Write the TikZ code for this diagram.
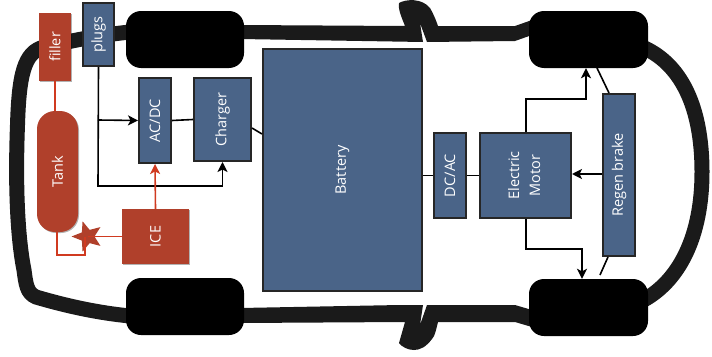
\documentclass[tikz,border=0pt]{standalone}
\usepackage{fontspec}
\setmainfont{Open Sans}
\usetikzlibrary{arrows.meta,shapes.geometric,shadows}
\definecolor{bluebox}{HTML}{4A6488}
\definecolor{redbox}{HTML}{B0402B}
\definecolor{redline}{HTML}{D03A20}
\definecolor{body}{HTML}{1A1A1A}
\tikzset{
 x=1pt,y=-1pt,
 labelfont/.style={font=\fontsize{14.5}{21}\selectfont},
 softshadow/.style={drop shadow={shadow xshift=1pt,shadow yshift=-1pt,opacity=.3,fill=black}},
 bb/.style={draw=black!85,line width=2pt,fill=bluebox,text=white,inner sep=0pt,labelfont,align=center,softshadow},
 rb/.style={fill=redbox,text=white,inner sep=0pt,labelfont,align=center,softshadow},
 wheel/.style={fill=black,rounded corners=15pt,inner sep=0pt},
 carbody/.style={draw=body,line width=15pt,line cap=butt},
 blk/.style={draw=black,line width=1.6pt},
 blkarrow/.style={blk,-{Stealth[length=10pt,width=10pt,inset=2.5pt]}},
 redl/.style={draw=redline,line width=1.6pt},
 redarrow/.style={redl,-{Stealth[length=10pt,width=10pt,inset=2.5pt]}},
}
\begin{document}
\begin{tikzpicture}
\useasboundingbox (0,0) rectangle (712,356);
% car body
\draw[carbody] (130,32) .. controls (100,35) and (70,41) .. (44,47) .. controls (24,52) and (19,75) .. (17.5,125) .. controls (15,190) and (18,240) .. (24,270) .. controls (26,285) and (27,293) .. (36,297) .. controls (70,307) and (100,313) .. (130,316);
\fill[body] (240,25) -- (405,26) .. controls (401,16) and (398,9) .. (399,3) .. controls (406,-1) and (422,-2) .. (430,8) .. controls (433,13) and (436,20) .. (438,26) -- (515,26) -- (532,20) -- (532,35) -- (515,41) -- (427,42) -- (420,23) -- (423,42) -- (240,39) -- cycle;
\fill[body] (240,308) -- (400,305) -- (423,305) -- (420,325) -- (427,305) -- (515,305) -- (532,310) -- (532,327) -- (515,322) -- (438,322) .. controls (436,330) and (435,336) .. (432,339) .. controls (426,347) and (420,350) .. (414,350) .. controls (408,350) and (402,347) .. (399,343) .. controls (401,336) and (403,329) .. (405,322) -- (240,323) -- cycle;
\draw[carbody] (640,46) .. controls (680,62) and (702,105) .. (702,172) .. controls (702,235) and (680,282) .. (640,302);
% wheels
\node[wheel,minimum width=118pt,minimum height=57pt] (wtl) at (185,39.5) {};
\node[wheel,minimum width=118pt,minimum height=57pt] (wbl) at (185,306.5) {};
\node[wheel,minimum width=119pt,minimum height=57pt] (wtr) at (588.5,39.5) {};
\node[wheel,minimum width=119pt,minimum height=57pt] (wbr) at (588.5,307.5) {};
% connector anchors
\coordinate (pj) at (98,120);
\coordinate (pk) at (98,186);
\coordinate (cj) at (526,99);
\coordinate (cjb) at (586,99);
\coordinate (cb) at (526,249);
\coordinate (cbb) at (582,249);
\coordinate (rt) at (597,68);
\coordinate (rb1) at (600,275);
% blue boxes
\node[bb,minimum width=31pt,minimum height=63pt] (plugs) at (98.5,34.5) {\rotatebox{90}{plugs}};
\node[bb,minimum width=32pt,minimum height=85pt] (acdc) at (155,120.5) {\rotatebox{90}{AC/DC}};
\node[bb,minimum width=57pt,minimum height=83pt] (charger) at (222.5,119.5) {\rotatebox{90}{Charger}};
\node[bb,minimum width=159pt,minimum height=242pt] (battery) at (342.5,170) {\rotatebox{90}{Battery}};
\node[bb,minimum width=32pt,minimum height=85pt] (dcac) at (450,175.5) {\rotatebox{90}{DC/AC}};
\node[bb,minimum width=91pt,minimum height=85pt] (motor) at (525.5,175.5) {\rotatebox{90}{\begin{tabular}{@{}c@{}}Electric\\Motor\end{tabular}}};
\node[bb,minimum width=32pt,minimum height=162pt] (regen) at (619,175) {\rotatebox{90}{Regen brake}};
% red
\node[rb,minimum width=32pt,minimum height=68pt] (filler) at (55,47) {\rotatebox{90}{filler}};
\node[rb,rounded corners=18pt,minimum width=41pt,minimum height=121pt] (tank) at (57.5,171.5) {\rotatebox{90}{Tank}};
\node[rb,minimum width=67pt,minimum height=55pt] (ice) at (155.5,236.5) {\rotatebox{90}{ICE}};
\node[star,star points=5,star point ratio=2.3,fill=redbox,inner sep=0pt,minimum size=32pt,rotate=90] (st) at (87.5,236.5) {};
\coordinate (ta) at (57,255);
\coordinate (tb) at (85,255);
% connectors
\begin{scope}[on background layer/.style={}]
\draw[blk] (plugs.south) -- (pk) -- (charger.south |- pk);
\draw[blkarrow] (pj) -- (acdc.west);
\draw[blkarrow] (pk) -| (charger.south);
\draw[blk] (acdc.east) -- (charger.west);
\draw[blk] (charger.east |- 0,128) -- (battery.west |- 0,134);
\draw[blk] (battery.east |- dcac.west) -- (dcac.west);
\draw[blk] (dcac.east) -- (motor.west);
\draw[blkarrow] (motor.north -| cj) -- (cj) -- (cjb) -- (wtr.south -| cjb);
\draw[blkarrow] (motor.south -| cb) -- (cb) -- (cbb) -- (wbr.north -| cbb);
\draw[blkarrow] (regen.west |- 0,174) -- (motor.east |- 0,174);
\draw[blk] (regen.north -| 609,0) -- (rt);
\draw[blk] (regen.south -| 608,0) -- (rb1);
\draw[redl] (filler.south) -- (tank.north -| filler);
\draw[redarrow] (ice.north) -- (acdc.south);
\draw[redl] (ice.west) -- (st.center);
\draw[redl] (tank.south -| ta) -- (ta) -- (tb) -- (st.center -| tb);
\end{scope}
\end{tikzpicture}
\end{document}
